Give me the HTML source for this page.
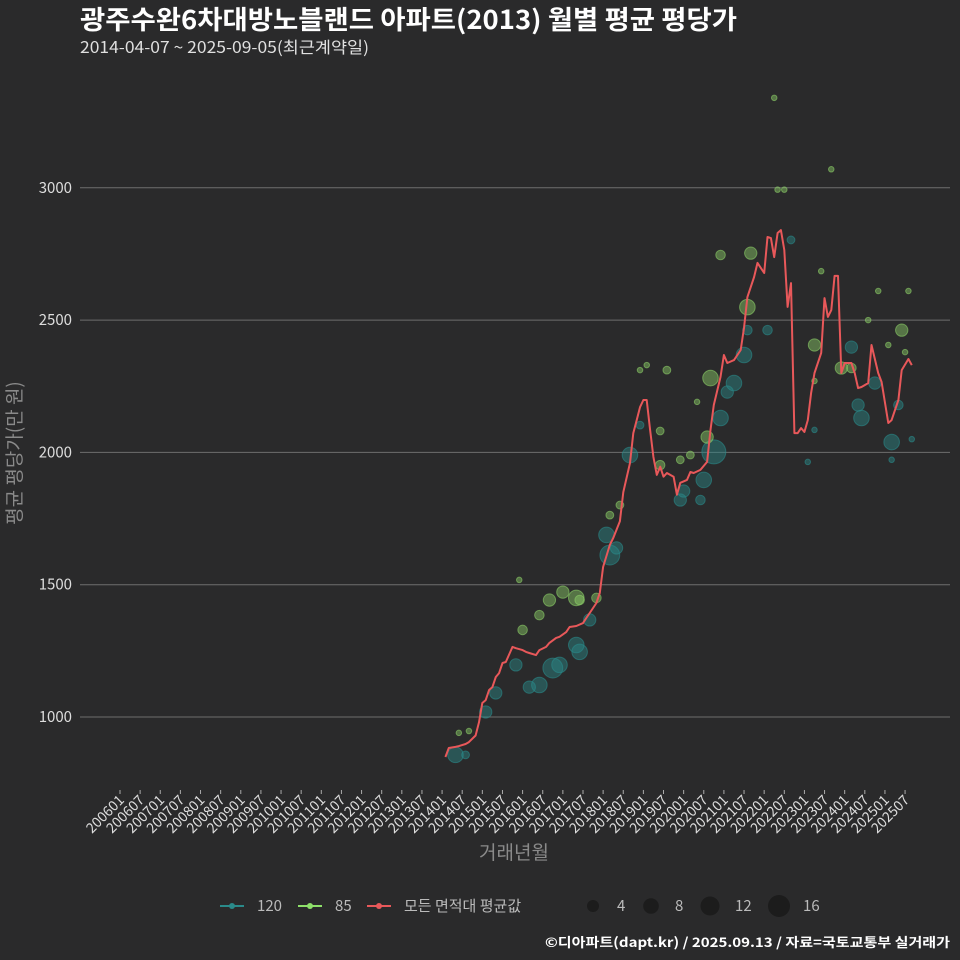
<!DOCTYPE html>
<html><head><meta charset="utf-8">
<style>
html,body{margin:0;padding:0;background:#2a2a2b;}
svg{display:block;font-family:"Noto Sans CJK KR","Liberation Sans",sans-serif;}
</style></head>
<body>
<svg id="chart" width="960" height="960" viewBox="0 0 960 960" xmlns="http://www.w3.org/2000/svg">
<rect x="0" y="0" width="960" height="960" fill="#2a2a2b"/>
<text x="80" y="29" fill="#ffffff" font-size="26" font-weight="bold" textLength="657" lengthAdjust="spacingAndGlyphs">광주수완6차대방노블랜드 아파트(2013) 월별 평균 평당가</text>
<text x="80" y="53" fill="#e0e0e0" font-size="16" textLength="289" lengthAdjust="spacingAndGlyphs">2014-04-07 ~ 2025-09-05(최근계약일)</text>
<g id="grid"></g>
<g id="xaxis"></g>
<g id="bubbles"></g>
<g id="line"></g>
<text transform="translate(21,453) rotate(-90)" text-anchor="middle" fill="#8a8a8a" font-size="19">평균 평당가(만 원)</text>
<text x="514" y="859" text-anchor="middle" fill="#8a8a8a" font-size="19">거래년월</text>
<g font-size="15" fill="#bbbbbb">
  <g>
    <line x1="220" y1="906" x2="244" y2="906" stroke="#2a8a8a" stroke-width="2"/><circle cx="232" cy="906" r="3" fill="#2a8a8a"/>
    <text x="257" y="911" fill="#bbbbbb">120</text></g>
  <g>
    <line x1="298" y1="906" x2="322" y2="906" stroke="#8ee06a" stroke-width="2"/><circle cx="310" cy="906" r="3" fill="#8ee06a"/>
    <text x="335" y="911" fill="#bbbbbb">85</text></g>
  <g>
    <line x1="367" y1="906" x2="391" y2="906" stroke="#e8585a" stroke-width="2"/><circle cx="379" cy="906" r="3" fill="#e8585a"/>
    <text x="404" y="911" fill="#bbbbbb">모든 면적대 평균값</text></g>
  <g><circle cx="593" cy="906" r="6" fill="#1c1c1c"/><text x="617" y="911">4</text></g>
  <g><circle cx="651" cy="906" r="7.8" fill="#1c1c1c"/><text x="675" y="911">8</text></g>
  <g><circle cx="710" cy="906" r="9.5" fill="#1c1c1c"/><text x="735" y="911">12</text></g>
  <g><circle cx="779" cy="906" r="11" fill="#1c1c1c"/><text x="803" y="911">16</text></g>
</g>
<text x="545" y="947" fill="#ffffff" font-size="13" font-weight="bold" textLength="405" lengthAdjust="spacingAndGlyphs">©디아파트(dapt.kr) / 2025.09.13 / 자료=국토교통부 실거래가</text>
</svg>
<script>
const yTicks = [1000, 1500, 2000, 2500, 3000];
const lineMonths = ["201402","201403","201405","201406","201408","201409","201411","201412","201501","201502","201503","201504","201505","201506","201507","201508","201510","201511","201601","201602","201603","201605","201606","201608","201609","201611","201612","201702","201703","201705","201707","201708","201709","201711","201712","201801","201803","201804","201806","201807","201809","201810","201811","201812","201901","201902","201903","201904","201905","201906","201907","201908","201910","201911","201912","202002","202003","202004","202006","202008","202009","202010","202012","202101","202102","202104","202106","202107","202108","202110","202111","202201","202202","202203","202204","202205","202206","202207","202208","202209","202210","202211","202212","202301","202302","202303","202304","202306","202307","202308","202309","202310","202311","202312","202401","202403","202404","202405","202406","202408","202409","202411","202412","202502","202503","202505","202506","202508","202509"];
const lineValues = [849,883,887,890,898,905,930,980,1053,1064,1102,1113,1151,1166,1204,1208,1265,1260,1253,1246,1242,1234,1253,1265,1280,1299,1303,1321,1340,1344,1355,1374,1393,1431,1469,1567,1650,1676,1740,1850,1960,2073,2122,2171,2198,2198,2085,1983,1915,1946,1908,1922,1908,1840,1885,1896,1926,1922,1934,1964,2085,2179,2285,2368,2338,2349,2387,2470,2587,2663,2716,2678,2814,2810,2738,2829,2840,2765,2550,2640,2073,2073,2092,2077,2122,2224,2300,2376,2583,2512,2538,2667,2667,2300,2338,2338,2300,2243,2247,2262,2406,2300,2266,2111,2122,2198,2311,2353,2330];
const months120 = ["201405","201408","201502","201505","201511","201603","201606","201610","201612","201705","201706","201709","201803","201805","201802","201809","201812","201912","202001","202006","202007","202010","202012","202102","202104","202107","202108","202202","202209","202304","202302","202403","202405","202406","202410","202503","202505","202509","202503"];
const values120 = [857,857,1019,1091,1197,1113,1121,1185,1197,1272,1246,1367,1612,1639,1688,1990,2103,1820,1854,1820,1896,2002,2130,2228,2262,2368,2462,2462,2803,2085,1964,2398,2179,2130,2262,2039,2179,2050,1972];
const counts120 = [8,2,5,5,5,5,8,13,8,8,8,5,13,5,8,8,2,5,5,3,8,19,8,5,8,8,3,3,2,1,1,5,5,8,5,8,3,1,1];
const months85 = ["201406","201409","201512","201601","201606","201609","201701","201705","201706","201711","201803","201806","201812","201902","201908","201906","201906","201912","202003","202005","202008","202009","202012","202108","202109","202204","202205","202207","202304","202304","202306","202309","202312","202403","202408","202411","202506","202507","202508","202502"];
const values85 = [940,947,1518,1329,1385,1442,1472,1450,1442,1450,1763,1801,2311,2330,2311,2081,1952,1972,1990,2191,2058,2281,2746,2549,2753,3340,2993,2993,2270,2406,2685,3070,2319,2319,2500,2610,2462,2379,2610,2406];
const counts85 = [1,1,1,3,3,5,5,8,3,3,2,2,1,1,2,2,3,2,2,1,5,8,3,8,5,1,1,1,1,5,1,1,5,3,1,1,5,1,1,1];
const xTickLabels = [];
for (let y = 2006; y <= 2025; y++) { xTickLabels.push(y + "01"); xTickLabels.push(y + "07"); }

const NS = "http://www.w3.org/2000/svg";
const X0 = 120, PXM = 3.355;
function monthIdx(s){ return (parseInt(s.slice(0,4))-2006)*12 + parseInt(s.slice(4,6)) - 1; }
function xScale(s){ return X0 + monthIdx(s)*PXM; }
function yScale(v){ return 717 - (v-1000)*0.2646; }
function rScale(n){ return 2.75*Math.sqrt(n); }
function mk(tag, attrs, parent){ const e=document.createElementNS(NS,tag); for(const k in attrs) e.setAttribute(k,attrs[k]); parent.appendChild(e); return e; }

const grid = document.getElementById('grid');
yTicks.forEach(v => {
  const l = mk('line',{x1:80,x2:950,y1:yScale(v),y2:yScale(v),stroke:'#6e6e6e','stroke-width':1},grid);
  
  
  const t = mk('text',{x:72,y:yScale(v)+5,'text-anchor':'end',fill:'#dddddd','font-size':15},grid);
  t.textContent = v;
  
  
});
const xa = document.getElementById('xaxis');
xTickLabels.forEach(lbl => {
  const x = xScale(lbl);
  const tk = mk('line',{x1:x,x2:x,y1:790,y2:794,stroke:'#aaaaaa','stroke-width':1},xa);
  
  
  const t = mk('text',{transform:`translate(${x+5},${801}) rotate(-45)`,'text-anchor':'end',fill:'#dddddd','font-size':14},xa);
  t.textContent = lbl;
  
  
});
const bg = document.getElementById('bubbles');
function drawSeries(ms, vs, cs, color, name){
  ms.forEach((m,i) => {
    const c = mk('circle',{cx:xScale(m),cy:yScale(vs[i]),r:rScale(cs[i]),fill:color,'fill-opacity':0.45,stroke:color,'stroke-opacity':0.6,'stroke-width':1},bg);
    
    
  });
}
drawSeries(months120, values120, counts120, '#2a8a8a', 'bubble-120');
drawSeries(months85, values85, counts85, '#8ccf68', 'bubble-85');
const lg = document.getElementById('line');
const pts = lineMonths.map((m,i)=> xScale(m).toFixed(1)+','+yScale(lineValues[i]).toFixed(1)).join(' ');
const pl = mk('polyline',{points:pts,fill:'none',stroke:'#e8585a','stroke-width':2,'stroke-linejoin':'round'},lg);


</script>
</body></html>
